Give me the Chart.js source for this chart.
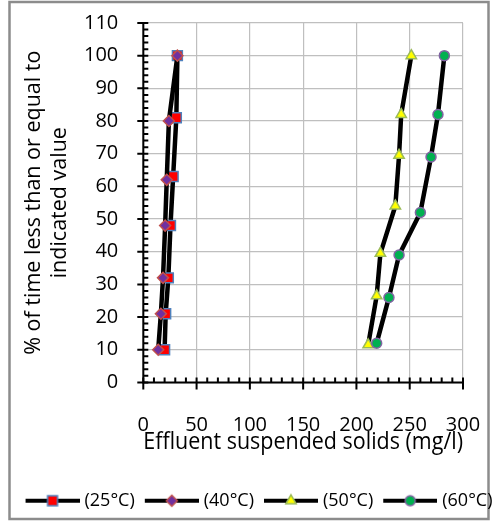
<!DOCTYPE html>
<html>
<head>
<meta charset="utf-8">
<script src="https://cdn.jsdelivr.net/npm/chart.js@4"></script>
<style>
  html, body { margin: 0; padding: 0; background: #fff; overflow: hidden; }
  #wrap { width: 518px; height: 524px; }
</style>
</head>
<body>
<div id="wrap"><canvas id="chart" width="518" height="524"></canvas></div>
<script>
// values
const labels = ['(25°C)', '(40°C)', '(50°C)', '(60°C)'];
const pct25 = [10, 21, 32, 48, 63, 81, 100];
const ess25 = [20, 21, 23.5, 25.5, 28, 31, 32];
const pct40 = [10, 21, 32, 48, 62, 80, 100];
const ess40 = [14, 16.5, 18.5, 20.5, 22, 24, 32];
const pct50 = [11.5, 26.5, 39.5, 54, 69.5, 82, 100];
const ess50 = [211, 219, 222.5, 236.5, 240, 242, 251.5];
const pct60 = [12, 26, 39, 52, 69, 82, 100];
const ess60 = [219, 230.5, 240, 260, 270, 276.5, 282.5];

const xMax = 300, xStep = 50, xMinor = 10;
const yMax = 110, yStep = 10, yMinor = 2;

const toPoints = (xs, ys) => xs.map((v, i) => ({ x: v, y: ys[i] }));

Chart.defaults.font.family = "'Open Sans', sans-serif";
Chart.defaults.color = '#000';

function makeSeries(label, xs, ys, style, radius, fill, border, order) {
  return {
    label,
    data: toPoints(xs, ys),
    borderColor: '#000',
    borderWidth: 4.5,
    tension: 0,
    pointStyle: style,
    pointRadius: radius,
    pointHoverRadius: radius,
    pointBackgroundColor: fill,
    pointBorderColor: border,
    pointBorderWidth: 1.5,
    order
  };
}

// legend icon: line with the marker in the middle
function legendIcon(ds) {
  const c = document.createElement('canvas');
  c.width = 58; c.height = 16;
  const g = c.getContext('2d');
  g.strokeStyle = '#000';
  g.lineWidth = 4;
  g.beginPath();
  g.moveTo(4, 8); g.lineTo(58, 8);
  g.stroke();
  g.fillStyle = ds.pointBackgroundColor;
  g.strokeStyle = ds.pointBorderColor;
  g.lineWidth = ds.pointBorderWidth;
  Chart.helpers.drawPoint(g, { pointStyle: ds.pointStyle, radius: ds.pointRadius, borderWidth: ds.pointBorderWidth, rotation: 0 }, 31, 8);
  return c;
}

const frameAndAxes = {
  id: 'frameAndAxes',
  beforeDraw(chart) {
    const ctx = chart.ctx;
    ctx.save();
    ctx.fillStyle = '#fff';
    ctx.fillRect(0, 0, chart.width, chart.height);
    ctx.strokeStyle = '#8c8c8c';
    ctx.lineWidth = 2.5;
    ctx.strokeRect(9.5, 2, 479, 517);
    ctx.restore();
  },
  beforeDatasetsDraw(chart) {
    const { ctx, scales: { x, y } } = chart;
    const x0 = x.getPixelForValue(0);
    const y0 = y.getPixelForValue(0);
    ctx.save();
    ctx.strokeStyle = '#000';
    ctx.lineWidth = 2;
    ctx.beginPath();
    ctx.moveTo(x0, y.getPixelForValue(yMax));
    ctx.lineTo(x0, y0);
    ctx.lineTo(x.getPixelForValue(xMax), y0);
    ctx.stroke();

    ctx.beginPath();
    for (let v = 0; v <= yMax; v += yMinor) {
      const py = y.getPixelForValue(v);
      const major = v % yStep === 0;
      ctx.moveTo(major ? x0 - 6 : x0, py);
      ctx.lineTo(x0 + 5, py);
    }
    for (let v = 0; v <= xMax; v += xMinor) {
      const px = x.getPixelForValue(v);
      const major = v % xStep === 0;
      ctx.moveTo(px, y0 - 5);
      ctx.lineTo(px, major ? y0 + 7 : y0);
    }
    ctx.stroke();
    ctx.restore();
  }
};

const datasets = [
  makeSeries(labels[0], ess25, pct25, 'rect', 7, '#ff0000', '#4f81bd', 4),
  makeSeries(labels[1], ess40, pct40, 'rectRot', 5.5, '#7030a0', '#c0504d', 3),
  makeSeries(labels[2], ess50, pct50, 'triangle', 6, '#ffff00', '#9bbb59', 2),
  makeSeries(labels[3], ess60, pct60, 'circle', 5, '#00b050', '#8064a2', 1)
];

new Chart(document.getElementById('chart'), {
  type: 'line',
  data: { datasets },
  options: {
    responsive: false,
    animation: false,
    events: [],
    layout: { padding: { left: 0, right: 0, top: 23, bottom: 4.3 } },
    plugins: {
      tooltip: { enabled: false },
      legend: {
        position: 'bottom',
        labels: {
          usePointStyle: true,
          pointStyleWidth: 50,
          padding: 10,
          font: { size: 18 },
          generateLabels: (chart) => chart.data.datasets.map((ds, i) => ({
            text: ds.label,
            pointStyle: legendIcon(ds),
            fillStyle: 'transparent',
            strokeStyle: 'transparent',
            lineWidth: 0,
            hidden: false,
            datasetIndex: i,
            fontColor: '#000'
          }))
        }
      }
    },
    scales: {
      x: {
        type: 'linear',
        min: 0,
        max: xMax,
        ticks: { stepSize: xStep, padding: 31, font: { size: 20 } },
        grid: { color: '#bfbfbf', lineWidth: 1.2, drawTicks: false },
        border: { display: false },
        title: {
          display: true,
          text: 'Effluent suspended solids (mg/l)',
          font: { size: 23 },
          padding: { top: 0, bottom: 25 }
        },
        afterFit(scale) { scale.height = 99.3; }
      },
      y: {
        min: 0,
        max: yMax,
        ticks: { stepSize: yStep, padding: 25, font: { size: 20 } },
        grid: { color: '#bfbfbf', lineWidth: 1.2, drawTicks: false },
        border: { display: false },
        title: {
          display: true,
          text: ['% of time less than or equal to', 'indicated value'],
          font: { size: 21.5 },
          padding: { top: 21, bottom: 0 }
        },
        afterFit(scale) {
          scale.width = 143.3;
          // tick padding would otherwise push the plot top down
          scale.paddingTop = 0;
          scale.paddingBottom = 0;
        }
      },
      // empty right-hand strip so the legend can still span the full width
      yRight: {
        position: 'right',
        min: 0,
        max: yMax,
        ticks: { display: false },
        grid: { display: false },
        border: { display: false },
        afterFit(scale) {
          scale.width = 55;
          scale.paddingTop = 0;
          scale.paddingBottom = 0;
        }
      }
    }
  },
  plugins: [frameAndAxes]
});
</script>
</body>
</html>
